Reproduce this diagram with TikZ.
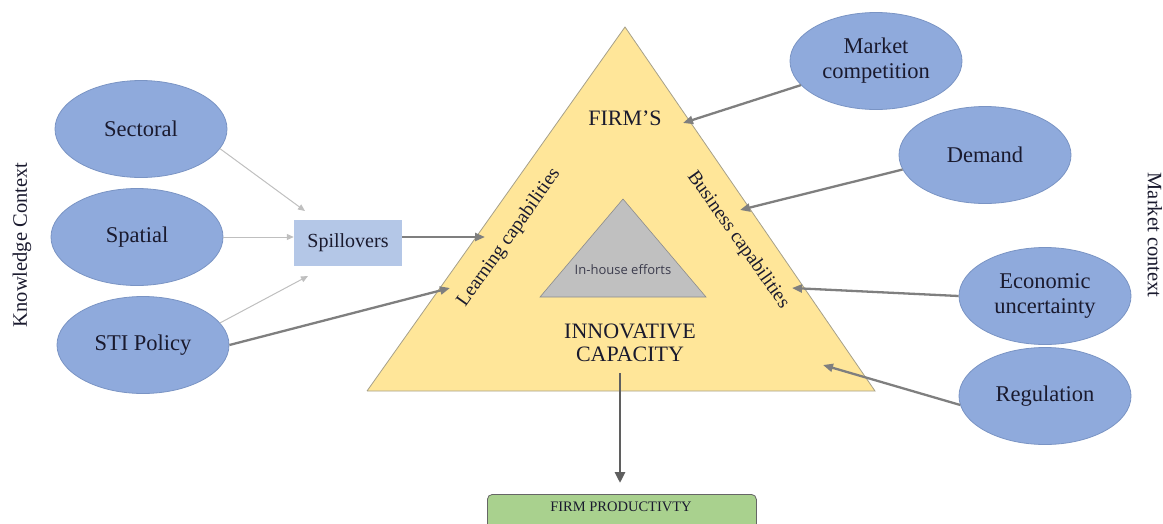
\documentclass[tikz,border=0pt]{standalone}
\usepackage{fontspec}
\setmainfont{Liberation Serif}
\newfontfamily\smallsans{Open Sans}
\usetikzlibrary{shapes.geometric,arrows.meta}

\definecolor{ellfill}{HTML}{8FAADC}
\definecolor{elledge}{HTML}{7A94C4}
\definecolor{trifill}{HTML}{FFE699}
\definecolor{triedge}{HTML}{A6A08A}
\definecolor{corefill}{HTML}{C0C0C0}
\definecolor{coreedge}{HTML}{8C8C8C}
\definecolor{spillfill}{HTML}{B4C7E7}
\definecolor{prodfill}{HTML}{A9D18E}
\definecolor{darkarrow}{HTML}{7F7F7F}
\definecolor{lightarrow}{HTML}{BFBFBF}
\definecolor{inktext}{HTML}{1A1A2E}

\tikzset{
  factor/.style={ellipse, fill=ellfill, draw=elledge, line width=0.8pt,
    minimum width=172pt, minimum height=97pt, inner sep=0pt,
    align=center, font=\fontsize{22.5}{25}\selectfont, text=inktext},
  spillbox/.style={rectangle, fill=spillfill, minimum width=108pt,
    minimum height=46pt, font=\fontsize{20}{22}\selectfont, text=inktext},
  prodbox/.style={rectangle, rounded corners=5pt, fill=prodfill,
    draw=darkarrow!80!black, line width=0.8pt},
  trilabel/.style={font=\fontsize{22}{24}\selectfont, text=inktext, align=center},
  sidelabel/.style={font=\fontsize{19.5}{21}\selectfont, text=inktext},
  ctxlabel/.style={font=\fontsize{20.5}{22}\selectfont, text=inktext},
  heavy/.style={draw=darkarrow, line width=2.3pt,
    -{Triangle[length=10pt,width=8pt]}},
  light/.style={draw=lightarrow, line width=1pt,
    -{Triangle[length=7pt,width=6pt]}},
}

\begin{document}
\begin{tikzpicture}[x=1pt,y=-1pt]
\useasboundingbox (0,0) rectangle (1163,523);
\clip (0,0) rectangle (1163,523);

% firm triangle and in-house core
\coordinate (apex) at (625,27);
\coordinate (bl) at (367,391);
\coordinate (br) at (875,391);
\fill[trifill] (apex) -- (bl) -- (br) -- cycle;
\draw[triedge, line width=0.8pt] (bl) -- (br) -- (apex) -- (bl);
\coordinate (capex) at (623,199);
\coordinate (cbl) at (540,297);
\coordinate (cbr) at (706,297);
\draw[fill=corefill, draw=coreedge, line width=0.6pt] (capex) -- (cbl) -- (cbr) -- cycle;

\node[font=\smallsans\fontsize{13}{15}\selectfont, text=inktext!85] (core) at (623,270) {In-house efforts};
\node[trilabel] (firms) at (625,118) {FIRM’S};
\node[trilabel] (innov) at (630,343) {INNOVATIVE\\[-1pt]CAPACITY};
\node[sidelabel, rotate=54.7] (learn) at (509,238) {Learning capabilities};
\node[sidelabel, rotate=-54.7] (biz) at (738,240) {Business capabilities};

% knowledge context
\node[ctxlabel, rotate=90] (kctx) at (22,245) {Knowledge Context};
\node[factor] (sec) at (141,129) {Sectoral};
\node[factor] (spat) at (137,237) {Spatial};
\node[factor] (sti) at (143,345) {STI Policy};
\node[spillbox] (spill) at (348,243) {Spillovers};

% market context
\node[ctxlabel, rotate=-90] (mctx) at (1155,235) {Market context};
\node[factor] (comp) at (876,61) {Market\\competition};
\node[factor] (dem) at (985,155) {Demand};
\node[factor] (econ) at (1045,296) {Economic\\uncertainty};
\node[factor] (reg) at (1045,396) {Regulation};

% productivity box
\node[prodbox, minimum width=269pt, minimum height=50pt, anchor=north west] (prod) at (487,494) {};
\node[font=\fontsize{14.5}{16}\selectfont, text=inktext] (prodtxt) at (621,507) {FIRM PRODUCTIVTY};

% arrow end points
\coordinate (spA) at (305,211);
\coordinate (spC) at (308,276);
\coordinate (inL1) at (485,237);
\coordinate (inL2) at (450,288);
\coordinate (inR1) at (683,123);
\coordinate (inR2) at (740,210);
\coordinate (inR3) at (792,288);
\coordinate (inR4) at (823,365);
\coordinate (outTop) at (620,373);
\coordinate (outEnd) at (620,483);

% knowledge flows
\draw[light] (sec.-14) -- (spA);
\draw[light] (spat.east) -- (spat.east -| spill.west);
\draw[light] (sti.16) -- (spC);
\draw[heavy] ([yshift=6pt]spill.east) -- (inL1);
\draw[heavy] (sti.east) -- (inL2);

% market pressures
\draw[heavy] (comp) -- (inR1);
\draw[heavy] (dem.190) -- (inR2);
\draw[heavy] (econ.west) -- (inR3);
\draw[heavy] (reg.186) -- (inR4);

% outcome
\draw[draw=darkarrow!75!black, line width=2.8pt, -{Triangle[length=11pt,width=10pt]}] (outTop) -- (outEnd);
\end{tikzpicture}
\end{document}
